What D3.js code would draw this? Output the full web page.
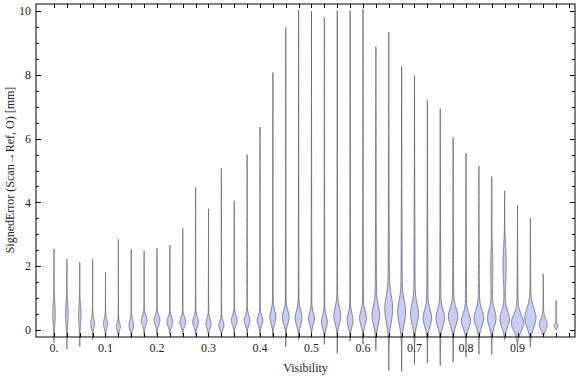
<!DOCTYPE html>
<html lang="en">
<head>
    <meta charset="UTF-8">
    <title>Signed error by visibility</title>
    <script src="https://d3js.org/d3.v7.min.js"></script>
    <style>
        body { margin: 0; background: #fff; }
        text { font-family: "Liberation Serif", "DejaVu Serif", serif; fill: #222; }
    </style>
</head>
<body>
    <svg id="chart" width="576" height="377"></svg>
    <script>
        // violin bins (visibility)
        const visibility = [0, 0.025, 0.05, 0.075, 0.1, 0.125, 0.15, 0.175, 0.2, 0.225,
            0.25, 0.275, 0.3, 0.325, 0.35, 0.375, 0.4, 0.425, 0.45, 0.475,
            0.5, 0.525, 0.55, 0.575, 0.6, 0.625, 0.65, 0.675, 0.7, 0.725,
            0.75, 0.775, 0.8, 0.825, 0.85, 0.875, 0.9, 0.925, 0.95, 0.975];
        // max signed error in each bin
        const maxErr = [2.54, 2.22, 2.12, 2.22, 1.81, 2.85, 2.53, 2.48, 2.56, 2.66,
            3.19, 4.47, 3.8, 5.07, 4.05, 5.49, 6.36, 8.07, 9.49, 10.03,
            10.0, 9.8, 10.01, 10.01, 10.07, 8.89, 9.34, 8.27, 7.98, 7.21,
            6.94, 6.05, 5.54, 5.14, 4.81, 4.36, 3.91, 3.51, 1.76, 0.92];
        // min signed error in each bin
        const minErr = [-0.4, -0.6, -0.52, -0.31, -0.2, -0.15, -0.25, -0.15, -0.15, -0.12,
            -0.15, -0.15, -0.12, -0.12, -0.15, -0.15, -0.15, -0.2, -0.53, -0.31,
            -0.2, -0.45, -0.73, -0.35, -0.45, -0.65, -1.27, -1.3, -1.08, -1.04,
            -1.12, -1.0, -0.85, -0.76, -0.76, -0.3, -0.66, -0.54, -0.15, 0.0];
        // mode of the density
        const modeErr = [0.5, 0.5, 0.45, 0.2, 0.2, 0.1, 0.15, 0.3, 0.3, 0.25,
            0.25, 0.25, 0.2, 0.15, 0.3, 0.3, 0.3, 0.4, 0.4, 0.37,
            0.35, 0.25, 0.45, 0.3, 0.37, 0.45, 0.65, 0.55, 0.5, 0.37,
            0.37, 0.42, 0.28, 0.37, 0.37, 0.33, 0.22, 0.37, 0.16, 0.13];
        // spread of the main body
        const spread = [0.35, 0.35, 0.3, 0.15, 0.15, 0.12, 0.15, 0.15, 0.15, 0.15,
            0.15, 0.15, 0.15, 0.13, 0.15, 0.15, 0.15, 0.2, 0.2, 0.22,
            0.18, 0.18, 0.25, 0.2, 0.22, 0.3, 0.4, 0.35, 0.3, 0.25,
            0.25, 0.25, 0.22, 0.25, 0.25, 0.25, 0.25, 0.3, 0.18, 0.06];
        // relative peak density
        const peak = [0.18, 0.18, 0.18, 0.3, 0.3, 0.3, 0.35, 0.45, 0.45, 0.45,
            0.45, 0.45, 0.4, 0.4, 0.45, 0.45, 0.45, 0.45, 0.52, 0.52,
            0.45, 0.45, 0.52, 0.45, 0.52, 0.52, 0.55, 0.55, 0.55, 0.6,
            0.6, 0.68, 0.65, 0.68, 0.6, 0.68, 0.92, 0.82, 0.6, 0.3];
        // relative density of the long tail
        const tail = [0.04, 0.04, 0.04, 0.04, 0.04, 0.04, 0.04, 0.04, 0.04, 0.04,
            0.04, 0.04, 0.04, 0.04, 0.04, 0.04, 0.04, 0.06, 0.06, 0.06,
            0.06, 0.06, 0.06, 0.06, 0.06, 0.12, 0.12, 0.12, 0.12, 0.12,
            0.12, 0.12, 0.12, 0.12, 0.12, 0.12, 0.12, 0.12, 0.08, 0.04];
        // secondary bump (location, relative density)
        const bumpAt = {34: 2.0, 35: 2.1};
        const bumpPeak = {34: 0.12, 35: 0.22};

        const xTickLabels = ["0.", "0.1", "0.2", "0.3", "0.4", "0.5", "0.6", "0.7", "0.8", "0.9"];
        const yTickValues = [0, 2, 4, 6, 8, 10];

        const width = 576;
        const height = 377;
        const margin = { top: 4, right: 1, bottom: 40, left: 36 };

        const svg = d3.select("#chart");

        const x = d3.scaleLinear()
            .domain([-0.03495, 1.01165])
            .range([margin.left, width - margin.right]);

        const y = d3.scaleLinear()
            .domain([-0.22, 10.22])
            .range([height - margin.bottom, margin.top]);

        const w = d3.scaleLinear().domain([0, 1]).range([0, 6]);

        // violins
        const area = d3.area()
            .y(d => y(d.v))
            .x0(d => d.cx - w(d.w))
            .x1(d => d.cx + w(d.w))
            .curve(d3.curveBasis);

        visibility.forEach((vis, i) => {
            const lo = minErr[i], hi = maxErr[i], m = modeErr[i];
            const n = 160;
            const pts = d3.range(n + 1).map(k => {
                const v = lo + (hi - lo) * k / n;
                let dens = peak[i] * Math.exp(-0.5 * ((v - m) / spread[i]) ** 2);
                if (bumpAt[i] !== undefined) {
                    dens += bumpPeak[i] * Math.exp(-0.5 * ((v - bumpAt[i]) / 0.5) ** 2);
                }
                let t = v >= m ? 1 - (v - m) / (hi - m) : 1 - (m - v) / (m - lo || 1);
                t = Math.max(0, Math.min(1, t));
                dens += tail[i] * Math.pow(t, 1.5);
                return { v: v, w: dens, cx: x(vis) };
            });
            svg.append("path")
                .datum(pts)
                .attr("d", area)
                .attr("fill", "#c8cdf4")
                .attr("stroke", "#55555c")
                .attr("stroke-opacity", 0.85)
                .attr("stroke-width", 0.8);
        });

        // frame
        svg.append("rect")
            .attr("x", x.range()[0])
            .attr("y", y.range()[1])
            .attr("width", x.range()[1] - x.range()[0])
            .attr("height", y.range()[0] - y.range()[1])
            .attr("fill", "none")
            .attr("stroke", "#000")
            .attr("stroke-width", 1);

        // x ticks (top and bottom)
        const xTicks = d3.range(0, 41).map(k => k * 0.025);
        const ticks = svg.append("g").attr("stroke", "#000").attr("stroke-width", 1);
        xTicks.forEach(t => {
            const px = Math.round(x(t)) + 0.5;
            ticks.append("line").attr("x1", px).attr("x2", px)
                .attr("y1", y.range()[1]).attr("y2", y.range()[1] + 4);
            ticks.append("line").attr("x1", px).attr("x2", px)
                .attr("y1", y.range()[0]).attr("y2", y.range()[0] - 4);
        });

        // y ticks (left and right)
        d3.range(0, 21).map(k => k * 0.5).forEach(t => {
            const major = t % 2 === 0;
            const len = major ? 5 : 3;
            const py = Math.round(y(t)) + 0.5;
            ticks.append("line").attr("y1", py).attr("y2", py)
                .attr("x1", x.range()[0]).attr("x2", x.range()[0] + len);
            ticks.append("line").attr("y1", py).attr("y2", py)
                .attr("x1", x.range()[1]).attr("x2", x.range()[1] - len);
        });

        // tick labels
        xTickLabels.forEach((lab, k) => {
            svg.append("text")
                .attr("x", x(k * 0.1))
                .attr("y", 352)
                .attr("text-anchor", "middle")
                .attr("font-size", "12px")
                .text(lab);
        });

        yTickValues.forEach(v => {
            svg.append("text")
                .attr("x", 31)
                .attr("y", y(v))
                .attr("dy", "0.35em")
                .attr("text-anchor", "end")
                .attr("font-size", "12px")
                .text(v);
        });

        // axis titles
        svg.append("text")
            .attr("x", (x.range()[0] + x.range()[1]) / 2)
            .attr("y", 372)
            .attr("text-anchor", "middle")
            .attr("font-size", "12px")
            .text("Visibility");

        svg.append("text")
            .attr("transform", `translate(14,170) rotate(-90)`)
            .attr("text-anchor", "middle")
            .attr("font-size", "12px")
            .text("SignedError (Scan\u2192Ref, O) [mm]");
    </script>
</body>
</html>
